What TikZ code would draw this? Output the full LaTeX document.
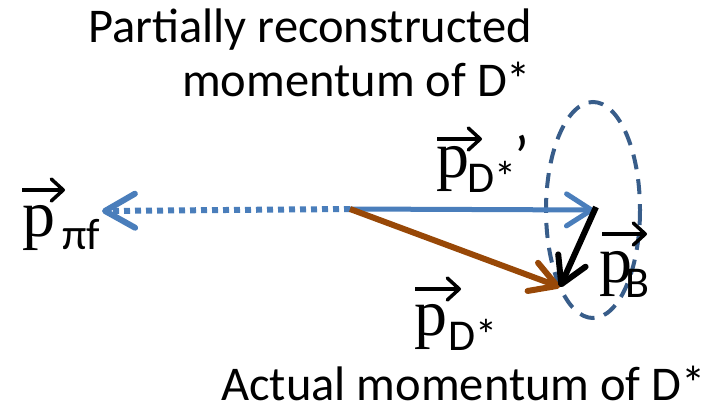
\documentclass[tikz,border=0pt]{standalone}
\usepackage{fontspec}
\setmainfont{Carlito}
\newfontfamily\timesfont{Liberation Serif}
\usetikzlibrary{arrows.meta}
\definecolor{pblue}{RGB}{74,126,187}
\definecolor{dblue}{RGB}{56,93,138}
\definecolor{pbrown}{RGB}{152,72,7}
\begin{document}
\begin{tikzpicture}[x=1pt,y=-1pt,
  bluevec/.style={pblue,line width=5pt,-{Straight Barb[length=25pt 0,width=32pt 0,round]}},
  dotvec/.style={pblue,line width=6pt,dash pattern=on 6pt off 5pt,-{Straight Barb[length=30pt 0,width=34pt 0,round]}},
  brownvec/.style={pbrown,line width=6pt,-{Straight Barb[length=26pt 0,width=30pt 0,round]}},
  blackvec/.style={black,line width=6pt,-{Straight Barb[length=26pt 0,width=30pt 0,round]}},
  over/.style={black,line width=3.5pt,-{Straight Barb[length=12pt 0,width=22pt 0,round]}},
  pletter/.style={anchor=base west,inner sep=0pt,font={\fontspec{Liberation Serif}\fontsize{66}{66}\selectfont}},
  sub/.style={anchor=base west,inner sep=0pt,font=\fontsize{44}{44}\selectfont},
  caption/.style={anchor=base west,inner sep=0pt,font=\fontsize{48.5}{48.5}\selectfont}]
\useasboundingbox (0,0) rectangle (709,409);
% captions
\node[caption] (t1) at (88,43) {Partially reconstructed};
\node[caption] (t2) at (182,97) {momentum of D*};
\node[caption] (t3) at (221,400) {Actual momentum of D*};
% ellipse
\draw[dblue,line width=4pt,dash pattern=on 15pt off 10pt] (593,210) ellipse [x radius=47, y radius=108];
% vectors
\coordinate (O) at (350,209);
\coordinate (A) at (594,210);
\coordinate (C) at (560,287);
\coordinate (L) at (102,211);
\coordinate (B0) at (596,207);
\draw[dotvec] (O) -- (L);
\draw[bluevec] (O) -- (A);
\draw[brownvec] (O) -- (C);
\draw[blackvec] (B0) -- (C);
% labels
\node[pletter] (p1) at (22,236) {p};
\node[sub] (s1) at (62,249) {πf};
\draw[over] (22,190) -- (65,190);
\node[pletter] (p2) at (436,177) {p};
\node[sub] (s2) at (467,192) {D*};
\node[anchor=base west,inner sep=0pt,font=\fontsize{60}{60}\selectfont] (pr) at (514,177) {’};
\draw[over] (437,139) -- (482,139);
\node[pletter] (p3) at (599,282) {p};
\node[sub] (s3) at (625,297) {B};
\draw[over] (602,234) -- (647,234);
\node[pletter] (p4) at (414,335) {p};
\node[sub] (s4) at (448,350) {D*};
\draw[over] (415,289) -- (461,289);
\end{tikzpicture}
\end{document}
